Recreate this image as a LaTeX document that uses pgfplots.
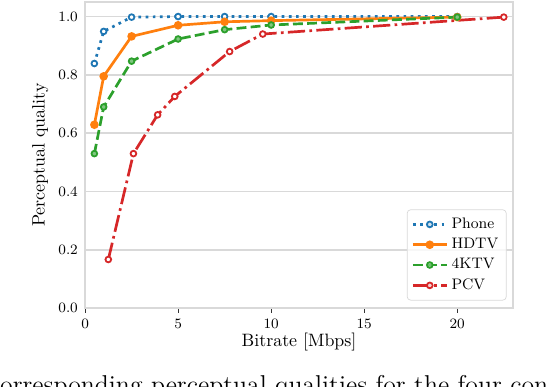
\documentclass[border=0pt]{standalone}
\usepackage{pgfplots}
\pgfplotsset{compat=1.18}

\definecolor{c0}{HTML}{1F77B4}
\definecolor{c1}{HTML}{FF7F0E}
\definecolor{c2}{HTML}{2CA02C}
\definecolor{c3}{HTML}{D62728}
\definecolor{gridgray}{gray}{0.85}

\begin{document}
\begin{tikzpicture}
\begin{axis}[
scale only axis,
width=239pt, height=171pt,
xmin=0, xmax=23,
ymin=0, ymax=1.05,
xtick={0,5,10,15,20},
ytick={0,0.2,0.4,0.6,0.8,1.0},
ticklabel style={font=\fontsize{8.3}{10}\selectfont},
y tick label style={/pgf/number format/fixed, /pgf/number format/fixed zerofill,
  /pgf/number format/precision=1, xshift=2pt},
axis line style={gridgray, line width=0.8pt},
ymajorgrids,
y grid style={gridgray, line width=0.8pt},
tick align=outside,
tick pos=left,
major tick length=2.5pt,
xtick style={black!80, line width=0.6pt},
ytick style={draw=none},
xlabel={Bitrate [Mbps]},
ylabel={Perceptual quality},
xlabel style={at={(axis description cs:0.5,-0.111)}, anchor=center},
ylabel style={at={(axis description cs:-0.1046,0.5)}, anchor=center},
legend cell align=left,
legend style={draw=gridgray, rounded corners=2pt, fill=white, fill opacity=0.8, text opacity=1,
  at={(0.985,0.025)}, anchor=south east, row sep=0pt, inner sep=2.5pt,
  font=\fontsize{8.5}{10}\selectfont},
legend image code/.code={\draw[mark repeat=2,mark phase=2] plot coordinates {(0cm,0cm)(0.33cm,0cm)(0.66cm,0cm)};},
every axis plot/.append style={line width=1.5pt},
]
\addplot [c0, dash pattern=on 1.5pt off 2.5pt, mark=*, mark size=1.6pt, mark options={solid, fill=white, line width=1pt}]
table {%
0.5 0.839
1 0.949
2.5 0.998
5 1.0
7.5 1.0
10 1.0
20 1.0
};
\addlegendentry{Phone}
\addplot [c1, solid, mark=*, mark size=1.6pt, mark options={solid, fill=c1}]
table {%
0.5 0.629
1 0.795
2.5 0.932
5 0.970
7.5 0.982
10 0.986
20 0.998
};
\addlegendentry{HDTV}
\addplot [c2, dash pattern=on 5.5pt off 2.4pt, mark=*, mark size=1.6pt, mark options={solid, fill=c2!60!white, line width=1pt}]
table {%
0.5 0.530
1 0.690
2.5 0.847
5 0.923
7.5 0.955
10 0.971
20 0.998
};
\addlegendentry{4KTV}
\addplot [c3, dash pattern=on 9.6pt off 2.4pt on 1.5pt off 2.4pt, mark=*, mark size=1.6pt, mark options={solid, fill=white, line width=1pt}]
table {%
1.25 0.167
2.6 0.530
3.9 0.663
4.82 0.726
7.77 0.880
9.55 0.940
22.5 0.998
};
\addlegendentry{PCV}
\end{axis}
\pgfresetboundingbox
\path[use as bounding box] (current axis.south west) ++(-47.5pt,-43.5pt) rectangle ++(306pt,215.6pt);
\node[anchor=base west, inner sep=0pt, font=\Large] at ([xshift=-53.9pt, yshift=-47.5pt]current axis.south west) {corresponding perceptual qualities for the four con};
\end{tikzpicture}
\end{document}
